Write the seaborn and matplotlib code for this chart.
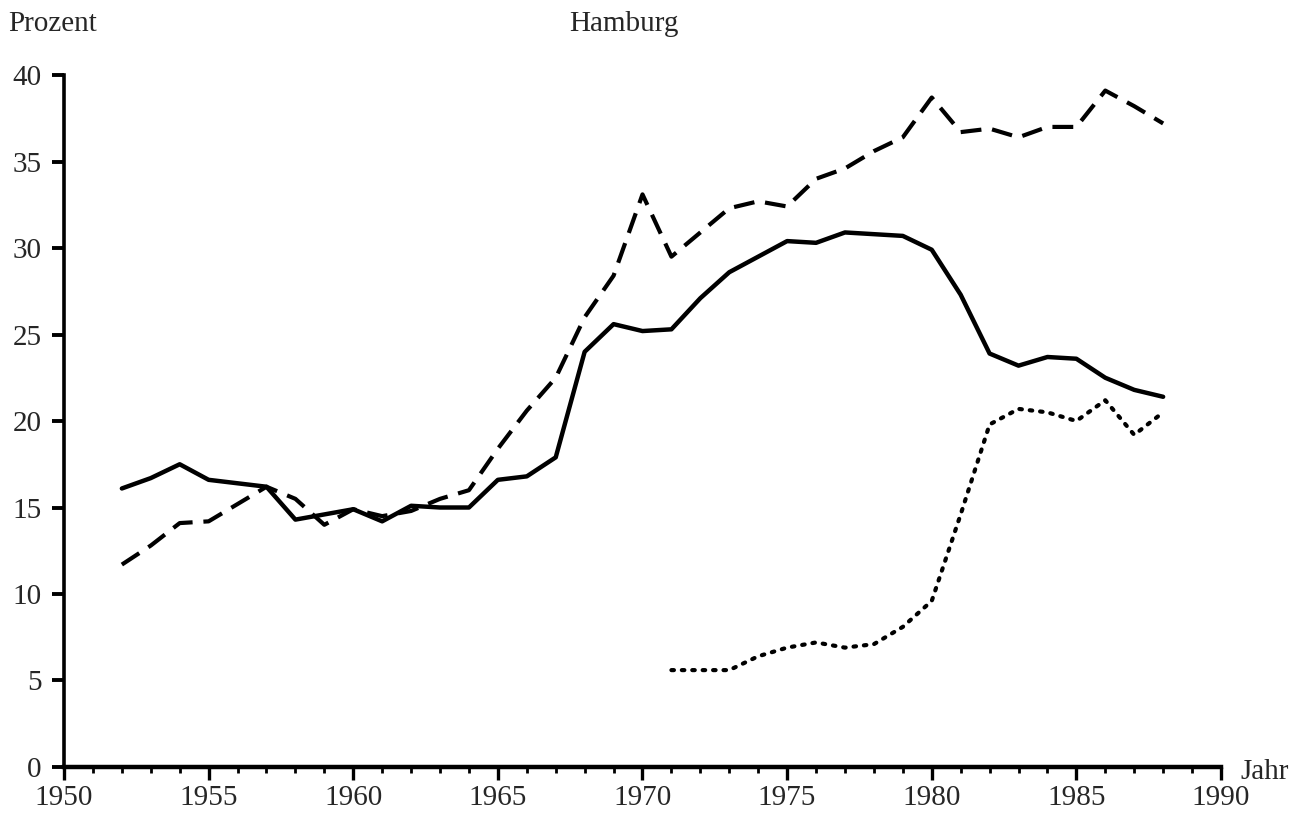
import pandas as pd
import matplotlib.pyplot as plt
import seaborn as sns
from matplotlib.ticker import MultipleLocator

# Werte (Prozent)
jahre = list(range(1952, 1989))
durchgezogen = [16.1, 16.7, 17.5, 16.6, 16.4, 16.2, 14.3, 14.6, 14.9, 14.2,
                15.1, 15.0, 15.0, 16.6, 16.8, 17.9, 24.0, 25.6, 25.2, 25.3,
                27.1, 28.6, 29.5, 30.4, 30.3, 30.9, 30.8, 30.7, 29.9, 27.3,
                23.9, 23.2, 23.7, 23.6, 22.5, 21.8, 21.4]
gestrichelt = [11.7, 12.8, 14.1, 14.2, 15.2, 16.2, 15.5, 14.0, 14.9, 14.5,
               14.8, 15.5, 16.0, 18.4, 20.6, 22.5, 26.0, 28.4, 33.1, 29.5,
               30.9, 32.3, 32.7, 32.4, 34.0, 34.6, 35.6, 36.4, 38.7, 36.7,
               36.9, 36.4, 37.0, 37.0, 39.1, 38.2, 37.2]
jahre_punkt = list(range(1971, 1989))
gepunktet = [5.6, 5.6, 5.6, 6.4, 6.9, 7.2, 6.9, 7.1, 8.1, 9.6,
             14.6, 19.8, 20.7, 20.5, 20.0, 21.2, 19.2, 20.5]

sns.set_style("ticks")
plt.rcParams['font.family'] = ['Liberation Serif', 'DejaVu Serif']
plt.rcParams['font.size'] = 21

fig = plt.figure(figsize=(13.01, 8.19), dpi=100)
ax = fig.add_axes([0.0492, 0.0635, 0.8893, 0.8449])

sns.lineplot(x=jahre, y=durchgezogen, ax=ax, color="black", linewidth=3.2)
sns.lineplot(x=jahre, y=gestrichelt, ax=ax, color="black", linewidth=3.0,
             linestyle=(0, (5, 2.6)))
sns.lineplot(x=jahre_punkt, y=gepunktet, ax=ax, color="black", linewidth=3.0,
             linestyle=(0, (0.6, 1.9)), dash_capstyle="round")

ax.set_xlim(1950, 1990)
ax.set_ylim(0, 40)
ax.xaxis.set_major_locator(MultipleLocator(5))
ax.xaxis.set_minor_locator(MultipleLocator(1))
ax.yaxis.set_major_locator(MultipleLocator(5))
ax.tick_params(axis="x", which="major", direction="out", length=9, width=2.4,
               pad=4, labelsize=21, color="black")
ax.tick_params(axis="x", which="minor", direction="out", length=4, width=2.0,
               color="black")
ax.tick_params(axis="y", which="major", direction="out", length=9, width=2.8,
               pad=7, labelsize=21, color="black")
for s in ["top", "right"]:
    ax.spines[s].set_visible(False)
ax.spines["left"].set_linewidth(2.6)
ax.spines["bottom"].set_linewidth(3.2)
ax.spines["left"].set_color("black")
ax.spines["bottom"].set_color("black")
ax.set_xlabel("")
ax.set_ylabel("")

fig.text(8 / 1301, 1 - 24 / 819, "Prozent", fontsize=21, va="center", ha="left")
fig.text(624 / 1301, 1 - 24 / 819, "Hamburg", fontsize=21, va="center", ha="center")
fig.text(1240 / 1301, 1 - 772 / 819, "Jahr", fontsize=21, va="center", ha="left")

fig.savefig("out.png", dpi=100)
